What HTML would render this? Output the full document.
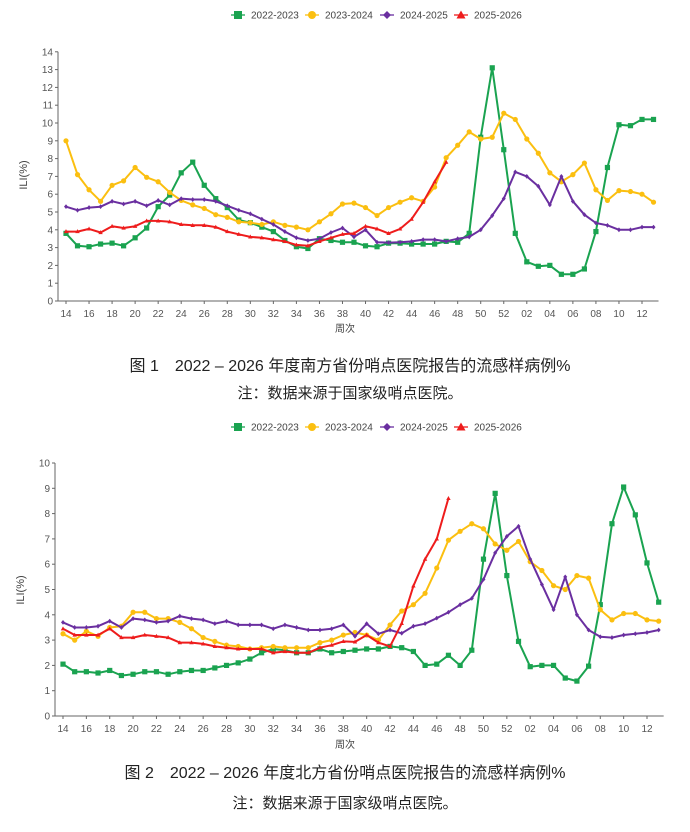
<!DOCTYPE html>
<html><head><meta charset="utf-8"><style>
body{margin:0;background:#fff;width:690px;height:832px;overflow:hidden}
svg{display:block}
text{font-family:"Liberation Sans","Noto Sans CJK SC",sans-serif}
</style></head><body>
<svg id="s" width="690" height="832" xmlns="http://www.w3.org/2000/svg"></svg>
<script>
const S=document.getElementById('s');let h='';
const C={g:'#1aa350',y:'#fbbf10',p:'#6a2fa0',r:'#ee1c1c'};
const wk=[];for(let i=14;i<=52;i++)wk.push(i);for(let i=1;i<=13;i++)wk.push(i);
function mk(t,x,y){const c=C[t];
 if(t=='g')return `<rect x="${x-2.6}" y="${y-2.6}" width="5.2" height="5.2" fill="${c}"/>`;
 if(t=='y')return `<circle cx="${x}" cy="${y}" r="2.6" fill="${c}"/>`;
 if(t=='p')return `<path d="M${x} ${y-2.4}L${x+2} ${y}L${x} ${y+2.4}L${x-2} ${y}Z" fill="${c}"/>`;
 return `<path d="M${x} ${y-2.4}L${x+2.2} ${y+1.6}L${x-2.2} ${y+1.6}Z" fill="${c}"/>`;}
function legend(y){const it=[['g','2022-2023',238],['y','2023-2024',312],['p','2024-2025',387],['r','2025-2026',461]];
 for(const [t,l,x] of it){h+=`<line x1="${x-7}" y1="${y}" x2="${x+7}" y2="${y}" stroke="${C[t]}" stroke-width="1.3"/>`;
 const m=mk(t,x,y);h+=t=='g'?`<rect x="${x-4}" y="${y-4}" width="8" height="8" fill="${C[t]}"/>`:t=='y'?`<circle cx="${x}" cy="${y}" r="4" fill="${C[t]}"/>`:t=='p'?`<path d="M${x} ${y-4}L${x+4} ${y}L${x} ${y+4}L${x-4} ${y}Z" fill="${C[t]}"/>`:`<path d="M${x} ${y-4.5}L${x+4.5} ${y+3.5}L${x-4.5} ${y+3.5}Z" fill="${C[t]}"/>`;
 h+=`<text x="${x+13}" y="${y+3.5}" font-size="10" fill="#444">${l}</text>`;}}
function chart(o){const {x0,sp,y0,pu,ymax,data}=o;const X=i=>x0+i*sp,Y=v=>y0-v*pu;
 h+=`<line x1="${x0-8}" y1="${Y(ymax)}" x2="${x0-8}" y2="${y0}" stroke="#666" stroke-width="1"/>`;
 h+=`<line x1="${x0-8}" y1="${y0}" x2="${X(51)+5}" y2="${y0}" stroke="#666" stroke-width="1"/>`;
 for(let v=0;v<=ymax;v++){h+=`<line x1="${x0-11}" y1="${Y(v)}" x2="${x0-8}" y2="${Y(v)}" stroke="#666"/>`;
  h+=`<text x="${x0-13}" y="${Y(v)+3.5}" font-size="10" fill="#555" text-anchor="end">${v}</text>`;}
 for(let i=0;i<52;i+=2){h+=`<line x1="${X(i)}" y1="${y0}" x2="${X(i)}" y2="${y0+3}" stroke="#666"/>`;
  h+=`<text x="${X(i)}" y="${y0+16}" font-size="10" fill="#555" text-anchor="middle">${String(wk[i]).padStart(2,'0')}</text>`;}
 for(const t of ['g','y','p','r']){const d=data[t];h+=`<polyline fill="none" stroke="${C[t]}" stroke-width="2" stroke-linejoin="round" points="${d.map((v,i)=>X(i).toFixed(1)+','+Y(v).toFixed(1)).join(' ')}"/>`;
  d.forEach((v,i)=>h+=mk(t,X(i),Y(v)));}}
legend(15);
chart({x0:66,sp:11.52,y0:301,pu:17.8,ymax:14,data:{
g:[3.8,3.1,3.05,3.2,3.25,3.1,3.55,4.1,5.3,5.95,7.2,7.8,6.5,5.75,5.25,4.55,4.4,4.15,3.9,3.4,3.05,2.95,3.5,3.4,3.3,3.3,3.1,3.05,3.25,3.25,3.2,3.2,3.2,3.35,3.3,3.8,9.2,13.1,8.5,3.8,2.2,1.95,2.0,1.5,1.5,1.8,3.9,7.5,9.9,9.85,10.2,10.2],
y:[9.0,7.1,6.25,5.6,6.5,6.75,7.5,6.95,6.7,6.1,5.65,5.4,5.2,4.85,4.7,4.45,4.4,4.3,4.45,4.25,4.15,4.0,4.45,4.9,5.45,5.5,5.25,4.8,5.25,5.55,5.8,5.6,6.4,8.05,8.75,9.5,9.1,9.2,10.55,10.2,9.1,8.3,7.2,6.7,7.1,7.75,6.25,5.65,6.2,6.15,6.0,5.55],
p:[5.3,5.1,5.25,5.3,5.6,5.45,5.6,5.35,5.65,5.4,5.75,5.7,5.7,5.6,5.35,5.1,4.9,4.6,4.3,3.9,3.55,3.4,3.5,3.85,4.1,3.6,4.0,3.3,3.28,3.3,3.35,3.45,3.45,3.35,3.5,3.6,4.0,4.8,5.75,7.25,7.0,6.45,5.4,7.0,5.6,4.85,4.38,4.25,4.0,4.0,4.15,4.15],
r:[3.9,3.9,4.05,3.85,4.2,4.1,4.2,4.5,4.5,4.45,4.3,4.25,4.25,4.15,3.9,3.75,3.6,3.55,3.45,3.35,3.15,3.1,3.35,3.55,3.75,3.8,4.2,4.05,3.8,4.05,4.6,5.55,6.7,7.8]}});
h+=`<text x="27" y="175" font-size="11" fill="#444" text-anchor="middle" transform="rotate(-90 27 175)">ILI(%)</text>`;
h+=`<text x="345" y="332" font-size="10" fill="#444" text-anchor="middle">周次</text>`;
h+=`<text x="350" y="371" font-size="16" fill="#222" text-anchor="middle">图 1　2022 – 2026 年度南方省份哨点医院报告的流感样病例%</text>`;
h+=`<text x="350" y="398" font-size="15" fill="#222" text-anchor="middle">注：数据来源于国家级哨点医院。</text>`;
legend(427);
chart({x0:63,sp:11.68,y0:716,pu:25.3,ymax:10,data:{
g:[2.05,1.75,1.75,1.7,1.8,1.6,1.65,1.75,1.75,1.65,1.75,1.8,1.8,1.9,2.0,2.1,2.25,2.5,2.65,2.6,2.5,2.5,2.65,2.5,2.55,2.6,2.65,2.65,2.75,2.7,2.55,2.0,2.05,2.4,2.0,2.6,6.2,8.8,5.55,2.95,1.95,2.0,2.0,1.5,1.38,1.97,4.4,7.6,9.05,7.95,6.05,4.5],
y:[3.25,3.0,3.35,3.15,3.5,3.55,4.1,4.1,3.85,3.85,3.7,3.45,3.1,2.95,2.8,2.75,2.65,2.7,2.75,2.7,2.7,2.7,2.9,3.0,3.2,3.3,3.2,3.0,3.6,4.15,4.4,4.85,5.85,6.95,7.3,7.6,7.4,6.8,6.55,6.9,6.1,5.75,5.15,5.0,5.55,5.45,4.2,3.8,4.05,4.05,3.8,3.75],
p:[3.7,3.5,3.5,3.55,3.75,3.5,3.85,3.8,3.7,3.75,3.95,3.85,3.8,3.65,3.75,3.6,3.6,3.6,3.45,3.6,3.5,3.4,3.4,3.45,3.6,3.15,3.65,3.25,3.4,3.27,3.55,3.65,3.87,4.1,4.4,4.65,5.4,6.45,7.1,7.5,6.2,5.2,4.2,5.5,4.0,3.4,3.13,3.1,3.2,3.25,3.3,3.4],
r:[3.45,3.2,3.2,3.2,3.45,3.1,3.1,3.2,3.15,3.1,2.9,2.9,2.85,2.75,2.7,2.65,2.65,2.65,2.5,2.55,2.5,2.5,2.7,2.8,2.95,2.93,3.2,2.9,2.75,3.66,5.14,6.2,7.0,8.6]}});
h+=`<text x="24" y="590" font-size="11" fill="#444" text-anchor="middle" transform="rotate(-90 24 590)">ILI(%)</text>`;
h+=`<text x="345" y="748" font-size="10" fill="#444" text-anchor="middle">周次</text>`;
h+=`<text x="345" y="778" font-size="16" fill="#222" text-anchor="middle">图 2　2022 – 2026 年度北方省份哨点医院报告的流感样病例%</text>`;
h+=`<text x="345" y="808" font-size="15" fill="#222" text-anchor="middle">注：数据来源于国家级哨点医院。</text>`;
S.innerHTML=h;
</script>
</body></html>
